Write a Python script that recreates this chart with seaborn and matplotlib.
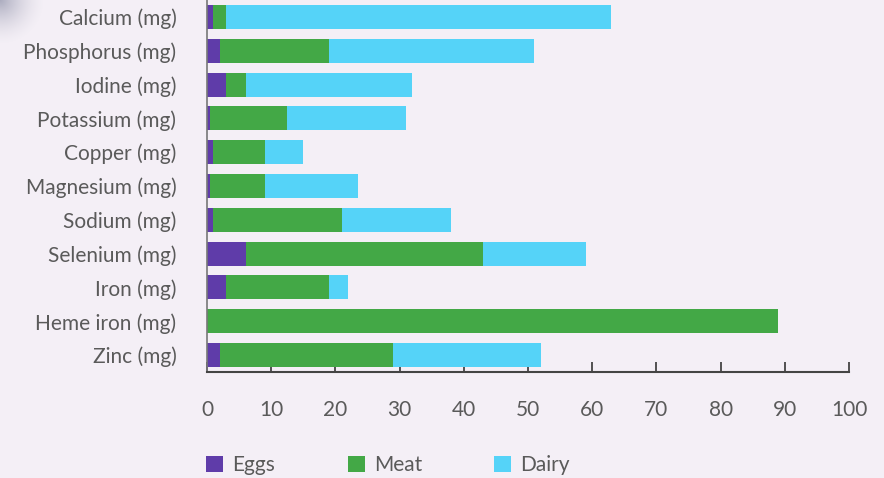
import matplotlib
matplotlib.use("Agg")
import matplotlib.pyplot as plt
from matplotlib.patches import Patch
import numpy as np
import pandas as pd
import seaborn as sns

nutrients = ["Calcium (mg)", "Phosphorus (mg)", "Iodine (mg)", "Potassium (mg)",
             "Copper (mg)", "Magnesium (mg)", "Sodium (mg)", "Selenium (mg)",
             "Iron (mg)", "Heme iron (mg)", "Zinc (mg)"]
eggs = [1, 2, 3, 0.5, 1, 0.5, 1, 6, 3, 0, 2]
meat = [2, 17, 3, 12, 8, 8.5, 20, 37, 16, 89, 27]
dairy = [60, 32, 26, 18.5, 6, 14.5, 17, 16, 3, 0, 23]
x_ticks = [0, 10, 20, 30, 40, 50, 60, 70, 80, 90, 100]

series = ["Eggs", "Meat", "Dairy"]
colors = {"Eggs": "#5f3ca9", "Meat": "#43a846", "Dairy": "#55d3f8"}

df = pd.DataFrame({"nutrient": nutrients, "Eggs": eggs, "Meat": meat, "Dairy": dairy})
df["Meat_cum"] = df["Eggs"] + df["Meat"]
df["Dairy_cum"] = df["Meat_cum"] + df["Dairy"]

bg = "#f4eff6"
text_col = "#5a5a5a"

sns.set_theme(style="white")
plt.rcParams["font.family"] = ["Lato", "DejaVu Sans"]

W, H = 884, 478
fig = plt.figure(figsize=(W / 100, H / 100), dpi=100, facecolor=bg)

# soft shaded corner in the upper left
corner = fig.add_axes([0, 1 - 70 / H, 90 / W, 70 / H])
yy, xx = np.mgrid[0:70, 0:90]
dist = np.hypot(xx, yy)
alpha = np.clip(1 - dist / 45, 0, 1) ** 1.6 * 0.55
rgba = np.zeros((70, 90, 4))
rgba[..., 0] = 0.45
rgba[..., 1] = 0.47
rgba[..., 2] = 0.58
rgba[..., 3] = alpha
corner.imshow(rgba, origin="upper", aspect="auto", interpolation="bilinear")
corner.axis("off")

ax = fig.add_axes([207 / W, 106 / H, 642 / W, 372 / H])
ax.set_facecolor(bg)

# Stacked bars: draw cumulative totals back to front
for col, name in [("Dairy_cum", "Dairy"), ("Meat_cum", "Meat"), ("Eggs", "Eggs")]:
    sns.barplot(data=df, x=col, y="nutrient", orient="h", color=colors[name],
                width=0.71, saturation=1, ax=ax, linewidth=0, order=nutrients)

ax.set_xlim(0, 100)
ax.set_ylim(len(nutrients) - 0.5, -0.5)
ax.set_xticks(x_ticks)
ax.set_xticklabels([str(t) for t in x_ticks])
ax.set_xlabel("")
ax.set_ylabel("")

for s in ["top", "right"]:
    ax.spines[s].set_visible(False)
ax.spines["left"].set_color("#777777")
ax.spines["left"].set_linewidth(1.2)
ax.spines["bottom"].set_color("#444444")
ax.spines["bottom"].set_linewidth(1.5)

ax.tick_params(axis="x", bottom=True, direction="in", length=7, width=1.3,
               color="#444444", pad=20, labelsize=15, labelcolor=text_col)
ax.tick_params(axis="y", left=False, length=0, pad=22, labelsize=15,
               labelcolor=text_col)

# one legend entry per series, laid out in a row under the axis
legend_x = {"Eggs": 206, "Meat": 348, "Dairy": 494}
for s in series:
    h = Patch(facecolor=colors[s], edgecolor="none", label=s)
    fig.legend(handles=[h], loc="center left",
               bbox_to_anchor=(legend_x[s] / W, 13 / H),
               frameon=False, fontsize=15, labelcolor=text_col,
               handlelength=0.82, handleheight=0.82, handletextpad=0.45,
               borderpad=0, borderaxespad=0)

fig.savefig("out.png", dpi=100, facecolor=bg)
